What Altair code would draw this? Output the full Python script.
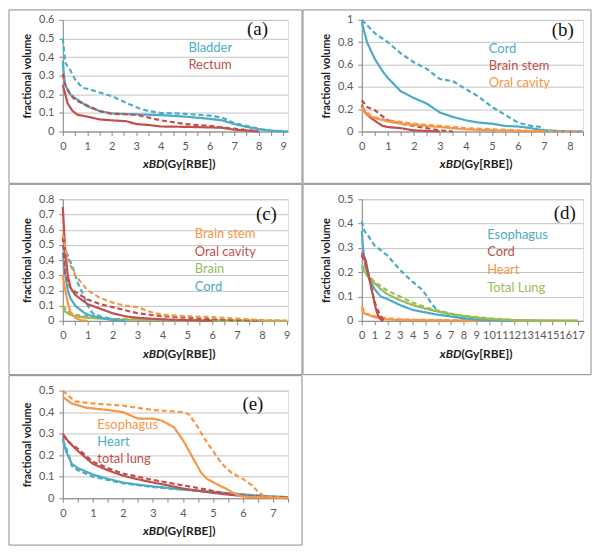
import altair as alt
import pandas as pd

# ---------------- data: (xBD [Gy(RBE)], fractional volume) ----------------
# panel (a)
a_bladder_solid = [(0, 0.38), (0.05, 0.3), (0.1, 0.25), (0.3, 0.2), (0.5, 0.18), (1, 0.135), (1.5, 0.11),
                   (2, 0.097), (3, 0.092), (4, 0.088), (5, 0.08), (6, 0.068), (6.5, 0.06), (7, 0.04),
                   (7.5, 0.025), (8, 0.012), (8.5, 0.004), (9.2, 0)]
a_bladder_dashed = [(0, 0.5), (0.1, 0.37), (0.3, 0.33), (0.5, 0.28), (0.8, 0.235), (1, 0.23), (1.5, 0.21),
                    (2, 0.19), (2.5, 0.16), (3, 0.13), (3.5, 0.11), (4, 0.1), (5, 0.095), (6, 0.085),
                    (6.5, 0.075), (7, 0.045), (7.5, 0.03), (8, 0.015), (8.5, 0.005), (9, 0)]
a_rectum_solid = [(0, 0.25), (0.1, 0.2), (0.2, 0.15), (0.4, 0.11), (0.6, 0.09), (1, 0.08), (1.5, 0.065),
                  (2, 0.06), (2.6, 0.055), (3, 0.04), (3.5, 0.035), (4, 0.027), (5, 0.025), (6, 0.022),
                  (6.5, 0.02), (7, 0.01), (7.5, 0.005), (8, 0)]
a_rectum_dashed = [(0, 0.31), (0.1, 0.25), (0.3, 0.2), (0.5, 0.17), (1, 0.14), (1.5, 0.11), (2, 0.095),
                   (3, 0.09), (4, 0.06), (4.5, 0.05), (5, 0.04), (6, 0.03), (7, 0.015), (7.5, 0.008), (8, 0)]

# panel (b)
b_cord_solid = [(0, 0.98), (0.2, 0.8), (0.5, 0.65), (0.8, 0.54), (1, 0.48), (1.5, 0.36), (2, 0.3),
                (2.5, 0.25), (3, 0.17), (3.5, 0.13), (4, 0.1), (4.5, 0.08), (5, 0.07), (5.5, 0.05),
                (6, 0.045), (6.5, 0.03), (7, 0.01), (7.5, 0.005), (8.5, 0)]
b_cord_dashed = [(0, 1.0), (0.5, 0.88), (1, 0.8), (1.5, 0.7), (2, 0.62), (2.5, 0.56), (3, 0.47), (3.5, 0.45),
                 (4, 0.38), (4.5, 0.31), (5, 0.22), (5.5, 0.15), (6, 0.08), (6.5, 0.05), (6.9, 0.04),
                 (7, 0.01), (7.5, 0.005), (8, 0)]
b_stem_solid = [(0, 0.24), (0.1, 0.18), (0.3, 0.13), (0.6, 0.08), (0.8, 0.05), (1, 0.04), (1.5, 0.03),
                (2, 0.01), (2.5, 0.005), (3, 0)]
b_stem_dashed = [(0, 0.28), (0.2, 0.22), (0.5, 0.19), (1, 0.1), (1.5, 0.07), (2, 0.05), (2.5, 0.03),
                 (3, 0.01), (3.5, 0)]
b_oral_solid = [(0, 0.2), (0.2, 0.15), (0.5, 0.12), (1, 0.09), (1.5, 0.07), (2, 0.06), (3, 0.04), (4, 0.02),
                (5, 0.01), (6, 0.005), (7, 0)]
b_oral_dashed = [(0, 0.22), (0.3, 0.15), (0.6, 0.12), (1, 0.1), (2, 0.07), (3, 0.05), (4, 0.03), (5, 0.02),
                 (6, 0.01), (7, 0.003), (8.5, 0)]

# panel (c)
c_stem_solid = [(0, 0.3), (0.1, 0.2), (0.2, 0.12), (0.3, 0.06), (0.5, 0.02), (0.7, 0.005), (1, 0)]
c_stem_dashed = [(0, 0.57), (0.2, 0.4), (0.5, 0.3), (1, 0.2), (1.5, 0.15), (2, 0.12), (2.5, 0.1), (3, 0.09),
                 (3.5, 0.06), (4, 0.04), (5, 0.03), (6, 0.025), (7, 0.015), (8, 0.005), (9, 0)]
c_oral_solid = [(0, 0.75), (0.05, 0.6), (0.1, 0.45), (0.2, 0.3), (0.3, 0.22), (0.5, 0.17), (1, 0.11),
                (1.5, 0.08), (2, 0.05), (2.5, 0.03), (3, 0.02), (4, 0.01), (5, 0.005), (6, 0)]
c_oral_dashed = [(0, 0.55), (0.1, 0.3), (0.3, 0.22), (0.5, 0.19), (1, 0.14), (1.5, 0.11), (2, 0.09),
                 (2.5, 0.07), (3, 0.05), (3.5, 0.04), (4, 0.03), (5, 0.02), (6, 0.01), (7, 0.005), (8, 0)]
c_brain_solid = [(0, 0.1), (0.1, 0.06), (0.3, 0.04), (0.5, 0.03), (1, 0.02), (2, 0.01), (3, 0.007),
                 (5, 0.004), (7, 0.002), (9, 0)]
c_brain_dashed = [(0, 0.1), (0.2, 0.06), (0.5, 0.04), (1, 0.03), (1.5, 0.02), (2, 0.012), (4, 0.006),
                  (6, 0.004), (8, 0.002), (9, 0)]
c_cord_solid = [(0, 0.45), (0.1, 0.3), (0.2, 0.2), (0.3, 0.15), (0.5, 0.1), (0.8, 0.06), (1, 0.04),
                (1.5, 0.02), (2, 0.005), (2.5, 0)]
c_cord_dashed = [(0, 0.5), (0.2, 0.43), (0.4, 0.35), (0.6, 0.25), (0.8, 0.18), (1, 0.1), (1.2, 0.05),
                 (1.5, 0.03), (2, 0.01), (2.5, 0)]

# panel (d)
d_eso_solid = [(0, 0.37), (0.1, 0.3), (0.3, 0.22), (0.5, 0.19), (1, 0.13), (1.5, 0.1), (2, 0.09), (3, 0.065),
               (4, 0.045), (5, 0.035), (6, 0.025), (7, 0.018), (8, 0.01), (9, 0.005), (10, 0.002), (12, 0)]
d_eso_dashed = [(0, 0.41), (0.2, 0.37), (0.5, 0.35), (1, 0.31), (2, 0.27), (3, 0.21), (4, 0.16), (4.7, 0.13),
                (5, 0.11), (5.5, 0.07), (6, 0.04), (7, 0.025), (8, 0.015), (9, 0.01), (10, 0.005),
                (12, 0.002), (14, 0)]
d_cord_solid = [(0, 0.28), (0.3, 0.25), (0.6, 0.17), (0.9, 0.1), (1.1, 0.05), (1.3, 0.02), (1.5, 0.005),
                (1.7, 0)]
d_cord_dashed = [(0, 0.27), (0.4, 0.22), (0.7, 0.15), (1, 0.08), (1.2, 0.05), (1.4, 0.03), (1.6, 0.01),
                 (1.8, 0)]
d_heart_solid = [(0, 0.05), (0.2, 0.03), (0.5, 0.025), (1, 0.015), (1.5, 0.01), (2, 0.005), (4, 0.003),
                 (8, 0.001), (17, 0)]
d_heart_dashed = [(0, 0.06), (0.3, 0.03), (1, 0.02), (2, 0.01), (3, 0.006), (6, 0.003), (10, 0.001), (17, 0)]
d_lung_solid = [(0, 0.22), (0.5, 0.18), (1, 0.155), (1.5, 0.13), (2, 0.11), (3, 0.085), (4, 0.065),
                (5, 0.05), (6, 0.038), (7, 0.028), (8, 0.02), (9, 0.013), (10, 0.008), (12, 0.003),
                (14, 0.001), (17, 0)]
d_lung_dashed = [(0, 0.23), (0.5, 0.19), (1, 0.16), (2, 0.125), (3, 0.1), (4, 0.075), (5, 0.055),
                 (6, 0.042), (7, 0.03), (8, 0.02), (9, 0.015), (10, 0.01), (12, 0.004), (14, 0.001), (17, 0)]

# panel (e)
e_eso_solid = [(0, 0.47), (0.3, 0.44), (0.8, 0.42), (1.5, 0.41), (2, 0.4), (2.5, 0.37), (3, 0.37),
               (3.3, 0.36), (3.7, 0.33), (4, 0.27), (4.2, 0.22), (4.4, 0.17), (4.6, 0.12), (4.8, 0.09),
               (5.2, 0.06), (5.5, 0.04), (5.8, 0.015), (6, 0.008), (6.5, 0.005), (7, 0.003), (7.5, 0)]
e_eso_dashed = [(0, 0.5), (0.4, 0.45), (1, 0.44), (2, 0.43), (3, 0.41), (3.5, 0.405), (4, 0.4), (4.2, 0.39),
                (4.5, 0.33), (4.7, 0.28), (5, 0.22), (5.3, 0.16), (5.6, 0.12), (6, 0.09), (6.3, 0.06),
                (6.5, 0.03), (6.7, 0.01), (7, 0.005), (7.5, 0)]
e_heart_solid = [(0, 0.28), (0.1, 0.22), (0.2, 0.19), (0.3, 0.16), (0.5, 0.14), (1, 0.11), (1.5, 0.09),
                 (2, 0.073), (2.5, 0.063), (3, 0.055), (3.5, 0.048), (4, 0.04), (5, 0.03), (6, 0.018),
                 (6.5, 0.012), (7, 0.008), (7.5, 0.005)]
e_heart_dashed = [(0, 0.27), (0.2, 0.2), (0.3, 0.15), (0.5, 0.13), (1, 0.1), (1.5, 0.085), (2, 0.07),
                  (3, 0.052), (4, 0.04), (5, 0.028), (6, 0.017), (7, 0.008), (7.5, 0.005)]
e_lung_solid = [(0, 0.3), (0.2, 0.26), (0.5, 0.22), (1, 0.16), (1.5, 0.13), (2, 0.105), (2.5, 0.088),
                (3, 0.073), (3.5, 0.06), (4, 0.045), (4.5, 0.035), (5, 0.025), (5.5, 0.017), (6, 0.01),
                (6.5, 0.006), (7, 0.004), (7.5, 0.002)]
e_lung_dashed = [(0, 0.29), (0.3, 0.25), (0.5, 0.23), (1, 0.17), (1.5, 0.14), (2, 0.115), (3, 0.085),
                 (4, 0.06), (5, 0.035), (5.5, 0.02), (6, 0.012), (7, 0.005), (7.5, 0.003)]

# legend labels (text drawn inside each panel) and their anchor positions in data units
a_organs = ["Bladder", "Rectum"]
a_label_pos = [(5.13, 0.449), (5.13, 0.356)]
b_organs = ["Cord", "Brain stem", "Oral cavity"]
b_label_pos = [(4.88, 0.742), (4.88, 0.585), (4.88, 0.437)]
c_organs = ["Brain stem", "Oral cavity", "Brain", "Cord"]
c_label_pos = [(5.3, 0.570), (5.3, 0.452), (5.3, 0.341), (5.3, 0.223)]
d_organs = ["Esophagus", "Cord", "Heart", "Total Lung"]
d_label_pos = [(9.86, 0.352), (9.86, 0.283), (9.86, 0.209), (9.86, 0.135)]
e_organs = ["Esophagus", "Heart", "total lung"]
e_label_pos = [(1.15, 0.341), (1.15, 0.259), (1.15, 0.182)]

panel_letters = ["(a)", "(b)", "(c)", "(d)", "(e)"]
letter_pos = [(7.95, 0.553), (7.72, 0.907), (8.18, 0.70), (15.96, 0.443), (6.33, 0.436)]

# ---------------- styling ----------------
BLUE, RED, ORANGE, GREEN = "#4bacc6", "#c0504d", "#f79646", "#9bbb59"
FONT = "Lato"
GRID = "#c4c4c4"
AXC = "#8a8a8a"
LAB = "#595959"
FRAME = "#8c8c8c"


def frange(stop, step):
    out, v = [], 0.0
    while v <= stop + 1e-9:
        out.append(round(v, 4))
        v += step
    return out


def panel(idx, organs, colors, curves, label_pos, xmax, ymax, ystep, xtick, W, H, frame):
    cmap = dict(zip(organs, colors))
    rows = []
    for organ, style, pts in curves:
        for i, (x, y) in enumerate(pts):
            rows.append(dict(x=x, y=y, organ=organ, col=cmap[organ], style=style,
                             sid=organ + "-" + style, i=i))
    df = pd.DataFrame(rows)
    lab = pd.DataFrame(dict(x=[p[0] for p in label_pos], y=[p[1] for p in label_pos], organ=organs,
                            col=[cmap[o] for o in organs]))
    let = pd.DataFrame(dict(x=[letter_pos[idx][0]], y=[letter_pos[idx][1]], t=[panel_letters[idx]]))
    one = pd.DataFrame(dict(k=[0]))

    xsc = alt.Scale(domain=[0, xmax], nice=False, zero=True)
    ysc = alt.Scale(domain=[0, ymax], nice=False, zero=True)
    xaxis = alt.Axis(values=frange(xmax, xtick),
                     labelExpr="datum.value % 1 == 0 ? format(datum.value, 'd') : ''",
                     title="", grid=False, labelFlush=False, labelOverlap=False,
                     tickSize=4, labelPadding=5, domainColor=AXC, tickColor=AXC,
                     labelColor=LAB, labelFont=FONT, labelFontSize=11)
    yaxis = alt.Axis(values=frange(ymax, ystep), format="~g", title="fractional volume",
                     grid=True, gridColor=GRID, domainColor=AXC, tickColor=AXC, tickSize=4,
                     labelPadding=5, labelColor=LAB, labelFont=FONT, labelFontSize=11,
                     titleFont=FONT, titleFontSize=11, titleFontWeight="bold", titleColor="#222222",
                     titlePadding=6, labelFlush=False, labelOverlap=False)
    X = alt.X("x:Q", scale=xsc, axis=xaxis)
    Y = alt.Y("y:Q", scale=ysc, axis=yaxis)

    lines = alt.Chart(df).mark_line(strokeWidth=2.2).encode(
        x=X, y=Y,
        color=alt.Color("col:N", scale=None),
        strokeDash=alt.StrokeDash("style:N", scale=alt.Scale(domain=["solid", "dashed"],
                                                             range=[[1, 0], [5, 3]]), legend=None),
        detail="sid:N",
        order="i:Q",
    )
    labels = alt.Chart(lab).mark_text(align="left", baseline="middle", font=FONT, fontSize=13).encode(
        x=X, y=Y, text="organ:N", color=alt.Color("col:N", scale=None))
    letter = alt.Chart(let).mark_text(align="center", baseline="middle", font="Liberation Serif",
                                      fontSize=19, color="#111111").encode(x=X, y=Y, text="t:N")
    fx1, fx2, fy1, fy2 = frame
    box = alt.Chart(one).mark_rect(filled=False, color=FRAME, strokeWidth=1).encode(
        x=alt.value(fx1), x2=alt.value(fx2), y=alt.value(fy1), y2=alt.value(fy2))
    t1 = alt.Chart(one).mark_text(text="xBD", align="right", baseline="middle", font=FONT, fontSize=12,
                                  fontWeight="bold", fontStyle="italic", color="#222222").encode(
        x=alt.value(W / 2 - 11), y=alt.value(H + 33))
    t2 = alt.Chart(one).mark_text(text="(Gy[RBE])", align="left", baseline="middle", font=FONT, fontSize=12,
                                  fontWeight="bold", color="#222222").encode(
        x=alt.value(W / 2 - 11), y=alt.value(H + 33))
    return alt.layer(lines, labels, letter, box, t1, t2).properties(width=W, height=H)


pa = panel(0, a_organs, [BLUE, RED],
           [("Bladder", "solid", a_bladder_solid), ("Bladder", "dashed", a_bladder_dashed),
            ("Rectum", "solid", a_rectum_solid), ("Rectum", "dashed", a_rectum_dashed)],
           a_label_pos, 9.2, 0.6, 0.1, 0.5, 226, 112, (-54, 240, -10, 164))
pb = panel(1, b_organs, [BLUE, RED, ORANGE],
           [("Cord", "solid", b_cord_solid), ("Cord", "dashed", b_cord_dashed),
            ("Brain stem", "solid", b_stem_solid), ("Brain stem", "dashed", b_stem_dashed),
            ("Oral cavity", "solid", b_oral_solid), ("Oral cavity", "dashed", b_oral_dashed)],
           b_label_pos, 8.5, 1.0, 0.2, 0.5, 222, 112, (-59, 230, -10, 164))
pc = panel(2, c_organs, [ORANGE, RED, GREEN, BLUE],
           [("Brain", "solid", c_brain_solid), ("Brain", "dashed", c_brain_dashed),
            ("Cord", "solid", c_cord_solid), ("Cord", "dashed", c_cord_dashed),
            ("Oral cavity", "solid", c_oral_solid), ("Oral cavity", "dashed", c_oral_dashed),
            ("Brain stem", "solid", c_stem_solid), ("Brain stem", "dashed", c_stem_dashed)],
           c_label_pos, 9.05, 0.8, 0.1, 0.5, 226, 122, (-54, 240, -15, 176))
pd_ = panel(3, d_organs, [BLUE, RED, ORANGE, GREEN],
            [("Heart", "solid", d_heart_solid), ("Heart", "dashed", d_heart_dashed),
             ("Esophagus", "solid", d_eso_solid), ("Esophagus", "dashed", d_eso_dashed),
             ("Total Lung", "solid", d_lung_solid), ("Total Lung", "dashed", d_lung_dashed),
             ("Cord", "solid", d_cord_solid), ("Cord", "dashed", d_cord_dashed)],
            d_label_pos, 17.4, 0.5, 0.1, 1, 222, 122, (-59, 230, -15, 176))
pe = panel(4, e_organs, [ORANGE, BLUE, RED],
           [("Heart", "solid", e_heart_solid), ("Heart", "dashed", e_heart_dashed),
            ("total lung", "solid", e_lung_solid), ("total lung", "dashed", e_lung_dashed),
            ("Esophagus", "solid", e_eso_solid), ("Esophagus", "dashed", e_eso_dashed)],
           e_label_pos, 7.5, 0.5, 0.1, 0.5, 226, 108, (-54, 240, -15, 155))

chart = alt.vconcat(
    alt.hconcat(pa, pb, spacing=-1),
    alt.hconcat(pc, pd_, spacing=-1),
    pe,
    spacing=-1,
).properties(padding=0).configure_view(strokeWidth=0).configure(background="white")

chart.save("out.html", embed_options={"renderer": "svg", "actions": False})
